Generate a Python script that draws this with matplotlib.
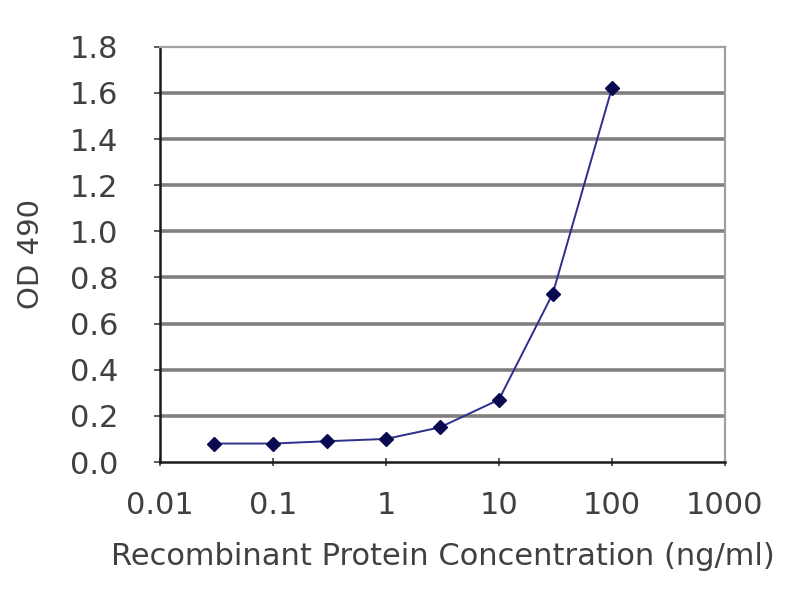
import matplotlib
matplotlib.use("Agg")
import matplotlib.pyplot as plt
from matplotlib.ticker import FixedLocator, FixedFormatter, NullLocator

conc = [0.03, 0.1, 0.3, 1, 3, 10, 30, 100]
od = [0.08, 0.08, 0.09, 0.10, 0.15, 0.27, 0.73, 1.62]
xticks = [0.01, 0.1, 1, 10, 100, 1000]
xticklabels = ["0.01", "0.1", "1", "10", "100", "1000"]
yticks = [0.0, 0.2, 0.4, 0.6, 0.8, 1.0, 1.2, 1.4, 1.6, 1.8]
yticklabels = ["%.1f" % v for v in yticks]

plt.rcParams['font.family'] = ['DejaVu Sans']
fig = plt.figure(figsize=(8, 6), dpi=100)
ax = fig.add_axes([0.2, 0.23, 0.706, 0.692])

ax.set_xscale('log')
ax.set_xlim(0.01, 1000)
ax.set_ylim(0, 1.8)

for v in yticks[1:-1]:
    ax.axhline(v, color='#808080', lw=2.6, zorder=1)

ax.plot(conc, od, color='#2e2e8c', lw=1.4, marker='D', markersize=7.5,
        markerfacecolor='#0a0a50', markeredgecolor='#0a0a50', zorder=3)

ax.xaxis.set_major_locator(FixedLocator(xticks))
ax.xaxis.set_major_formatter(FixedFormatter(xticklabels))
ax.xaxis.set_minor_locator(NullLocator())
ax.set_yticks(yticks)
ax.set_yticklabels(yticklabels)

for s in ['left', 'bottom']:
    ax.spines[s].set_color('#1a1a1a')
    ax.spines[s].set_linewidth(1.8)
for s in ['top', 'right']:
    ax.spines[s].set_color('#a0a0a0')
    ax.spines[s].set_linewidth(1.6)

txtc = '#404040'
ax.tick_params(axis='both', labelsize=22, colors=txtc, length=4, width=1.2)
ax.tick_params(axis='x', direction='inout', length=6, pad=18)
ax.tick_params(axis='y', pad=26)

ax.set_xlabel('Recombinant Protein Concentration (ng/ml)', fontsize=22,
              color=txtc, labelpad=16)
ax.set_ylabel('OD 490', fontsize=21, color=txtc, labelpad=18)

fig.savefig('out.png', dpi=100)
